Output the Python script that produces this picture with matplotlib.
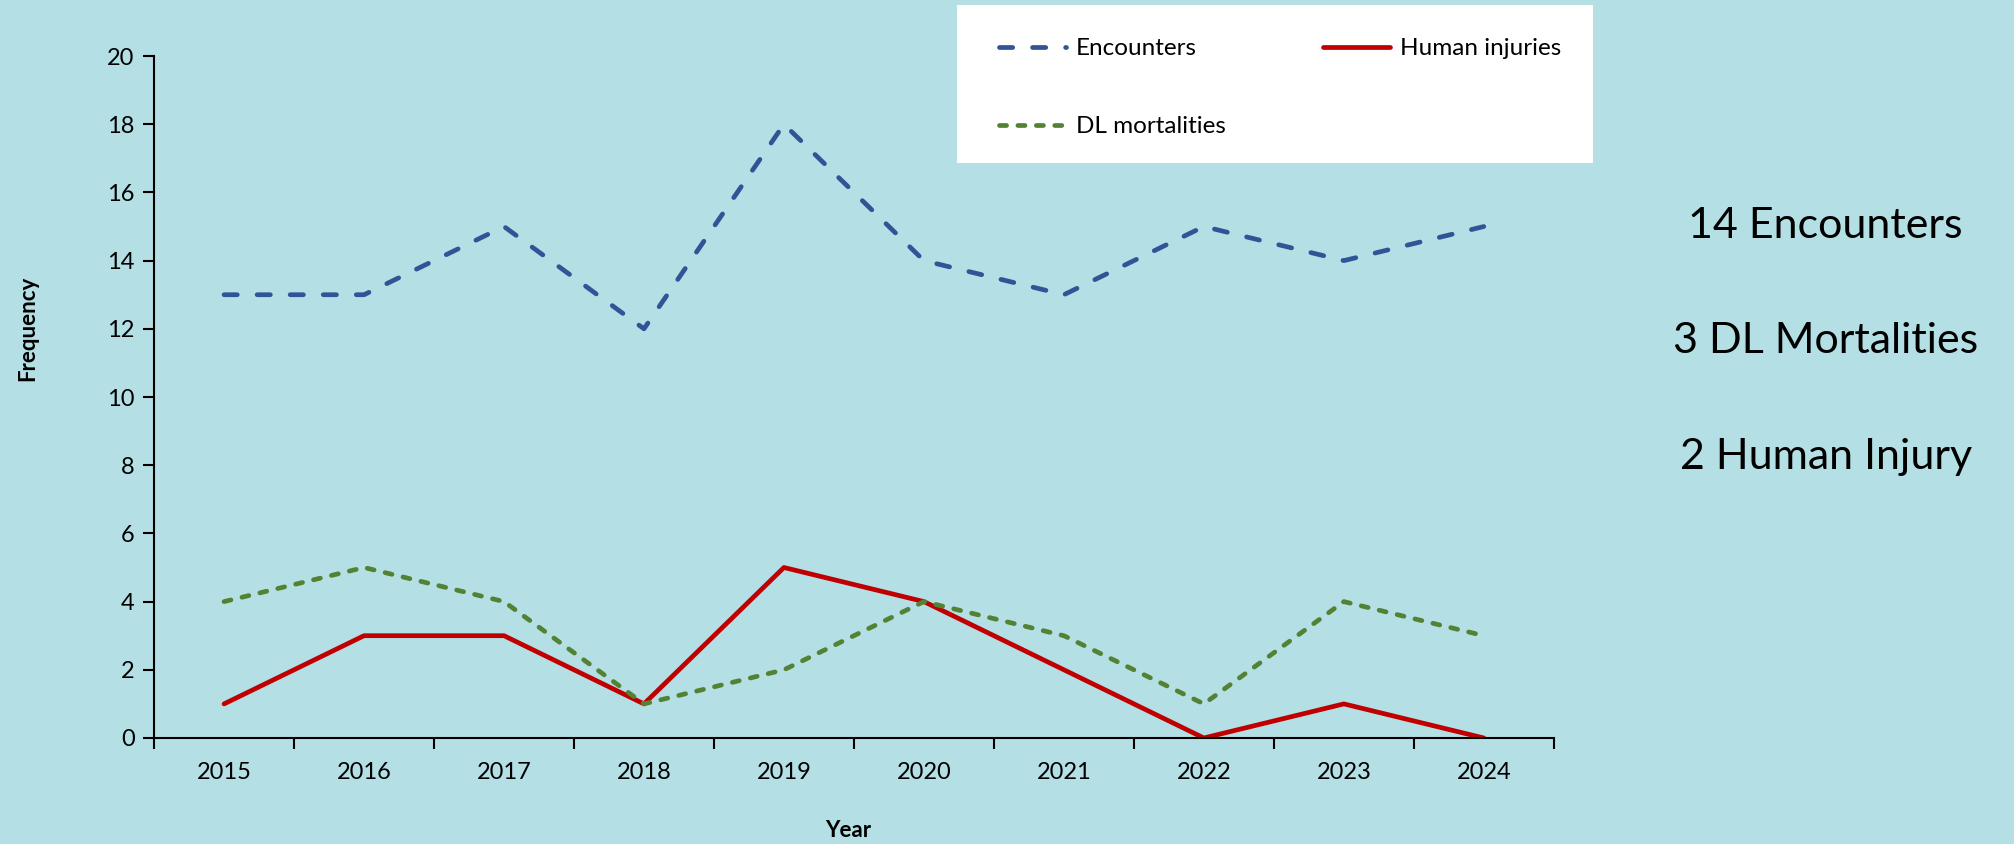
import matplotlib
matplotlib.use("Agg")
import matplotlib.pyplot as plt
from matplotlib.lines import Line2D
from matplotlib.patches import Rectangle
import numpy as np

years = ["2015", "2016", "2017", "2018", "2019", "2020", "2021", "2022", "2023", "2024"]
encounters = [13, 13, 15, 12, 18, 14, 13, 15, 14, 15]
human_injuries = [1, 3, 3, 1, 5, 4, 2, 0, 1, 0]
dl_mortalities = [4, 5, 4, 1, 2, 4, 3, 1, 4, 3]
summary_lines = ["14 Encounters", "3 DL Mortalities", "2 Human Injury"]

BG = "#B4DFE5"
BLUE = "#2F5597"
RED = "#C00000"
GREEN = "#548235"

plt.rcParams['font.family'] = ['Lato', 'DejaVu Sans']

fig = plt.figure(figsize=(20.14, 8.44), dpi=100, facecolor=BG)
ax = fig.add_axes([0.0765, 0.1256, 0.695, 0.808])
ax.set_facecolor(BG)

x = np.arange(len(years))
lw = 3.4
blue_dash = (2.8, 4.2)
green_dash = (1.5, 2.4)
ax.plot(x, encounters, color=BLUE, lw=lw, dashes=blue_dash, dash_capstyle='round', label='Encounters')
ax.plot(x, human_injuries, color=RED, lw=lw, solid_capstyle='round', label='Human injuries')
ax.plot(x, dl_mortalities, color=GREEN, lw=lw, dashes=green_dash, dash_capstyle='round', label='DL mortalities')

ax.set_xlim(-0.5, len(years) - 0.5)
ax.set_ylim(0, 20)
ax.set_yticks(np.arange(0, 21, 2))
ax.set_xticks(np.arange(-0.5, len(years), 1.0))
ax.set_xticklabels([])
ax.set_xticks(x, minor=True)
ax.set_xticklabels(years, minor=True)
ax.tick_params(axis='x', which='major', length=8, width=1.5, direction='out')
ax.tick_params(axis='x', which='minor', length=0, pad=17, labelsize=17)
ax.tick_params(axis='y', length=8, width=1.5, direction='out', labelsize=17, pad=6)

for s in ['top', 'right']:
    ax.spines[s].set_visible(False)
for s in ['left', 'bottom']:
    ax.spines[s].set_linewidth(1.5)
    ax.spines[s].set_color('black')

fig.text(0.0139, 0.611, "Frequency", rotation=90, ha='center', va='center', fontsize=16, fontweight='bold')
fig.text(0.421, 0.0155, "Year", ha='center', va='center', fontsize=16, fontweight='bold')

# white legend box
box = (0.4752, 0.807, 0.3158, 0.187)
fig.patches.append(Rectangle((box[0], box[1]), box[2], box[3], transform=fig.transFigure,
                             facecolor='white', edgecolor='none', zorder=1))

handles = [
    Line2D([0], [0], color=BLUE, lw=lw, dashes=blue_dash, dash_capstyle='round'),
    Line2D([0], [0], color=GREEN, lw=lw, dashes=green_dash, dash_capstyle='round'),
    Line2D([0], [0], color=RED, lw=lw, solid_capstyle='round'),
]
labels = ['Encounters', 'DL mortalities', 'Human injuries']
leg = fig.legend(handles, labels, loc='upper left',
                 bbox_to_anchor=(box[0] + 0.007, box[1], box[2] - 0.009, box[3] - 0.006),
                 mode='expand', ncol=2, frameon=False, fontsize=17.5,
                 handlelength=2.75, handletextpad=0.4, labelspacing=2.35, borderpad=1.15,
                 borderaxespad=0, columnspacing=1.0)
leg.set_zorder(2)

for i, t in enumerate(summary_lines):
    fig.text(0.9065, 0.732 - i * 0.1365, t, ha='center', va='center', fontsize=31)

fig.savefig("out.png", dpi=100, facecolor=BG)
